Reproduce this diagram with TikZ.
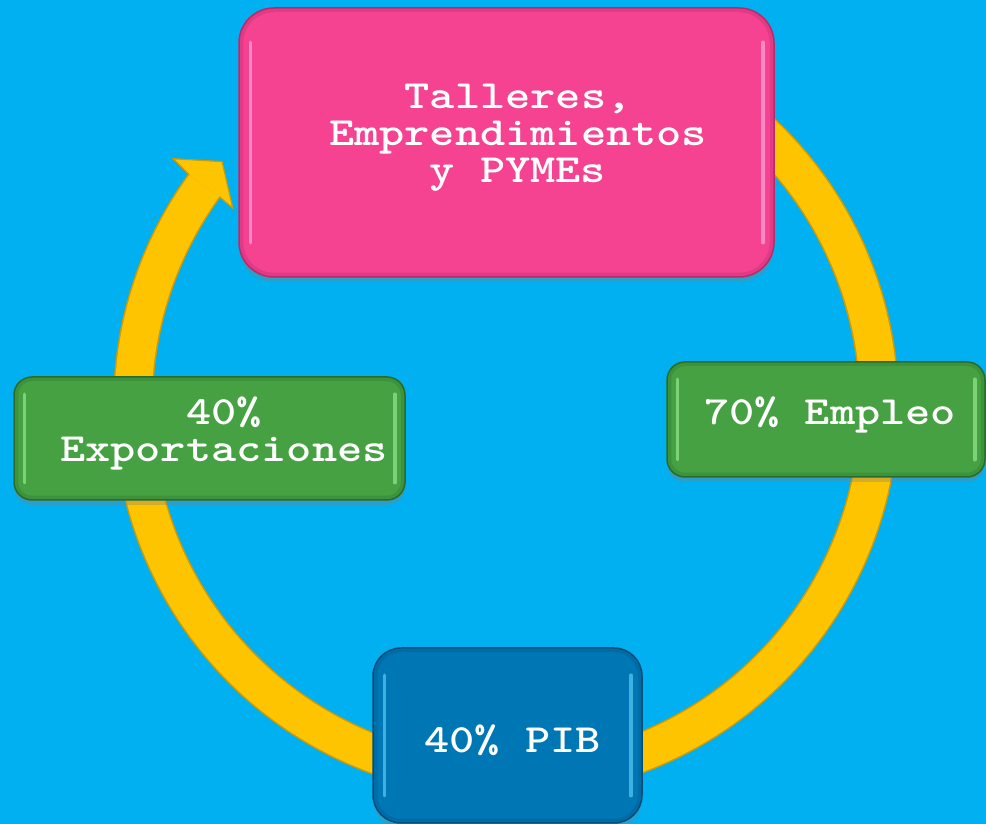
\documentclass[tikz,border=0pt]{standalone}
\usepackage{fontspec}
\newfontfamily\cour{Latin Modern Mono Light}[FakeStretch=1.2]
\usetikzlibrary{calc,shadows}
\definecolor{bg}{HTML}{00B0F0}
\definecolor{ringcol}{HTML}{FFC400}
\definecolor{ringedge}{HTML}{D39A00}
\definecolor{pinkmain}{HTML}{F54291}
\definecolor{pinkrim}{HTML}{E23A84}
\definecolor{pinkdark}{HTML}{B82A6A}
\definecolor{pinkhi}{HTML}{FFA6E0}
\definecolor{greenmain}{HTML}{45A142}
\definecolor{greenrim}{HTML}{3D933B}
\definecolor{greendark}{HTML}{2A6B2A}
\definecolor{greenhi}{HTML}{95E68E}
\definecolor{bluemain}{HTML}{0077B5}
\definecolor{bluerim}{HTML}{006CA6}
\definecolor{bluedark}{HTML}{004C7A}
\definecolor{bluehi}{HTML}{5CC8F5}
\tikzset{
  bbox/.style={rectangle, inner sep=0pt, line width=1.5pt,
    drop shadow={shadow xshift=0pt, shadow yshift=-5pt, opacity=0.35}},
  txt/.style={font=\cour\bfseries\fontsize{40}{37}\selectfont, text=white,
    inner sep=0pt, align=center, anchor=base},
  hiline/.style={line width=3.5pt, line cap=round, opacity=0.7}
}
\newcommand{\bevel}[5]{% name, radius, main, hi, inset
  \fill[#3, rounded corners=#2pt-4pt] ($(#1.south west)+(5,5)$) rectangle ($(#1.north east)-(5,5)$);
  \draw[#4, hiline] ($(#1.north west)+(#5,-#2)$) -- ($(#1.south west)+(#5,#2)$);
  \draw[#4, hiline] ($(#1.north east)+(-#5,-#2)$) -- ($(#1.south east)+(-#5,#2)$);
}
\begin{document}
\begin{tikzpicture}[x=1pt,y=1pt]
\fill[bg] (0,0) rectangle (986,824);
\useasboundingbox (0,0) rectangle (986,824);
% ring arrow
\coordinate (C) at (506,419);
\coordinate (ringstart) at ($(C)+(60:373)$);
\draw[ringedge, line width=40pt] (ringstart) arc[start angle=60, end angle=-216, radius=373];
\draw[ringcol, line width=37pt] (ringstart) arc[start angle=60, end angle=-216, radius=373];
\coordinate (hA) at ($(C)+(144:354.5)$);
\coordinate (hB) at ($(C)+(144.2:337)$);
\coordinate (hT) at ($(C)+(139.4:374)$);
\coordinate (hD) at ($(C)+(143.5:414)$);
\coordinate (hE) at ($(C)+(144:391.5)$);
\fill[ringcol] (hA) -- (hB) -- (hT) -- (hD) -- (hE) -- cycle;
\draw[ringedge, line width=1.2pt, line join=miter] (hA) -- (hB) -- (hT) -- (hD) -- (hE);
% boxes
\node[bbox, fill=pinkrim, draw=pinkdark, minimum width=535, minimum height=269, rounded corners=35pt] (pinkbox) at (506.5,681.5) {};
\bevel{pinkbox}{35}{pinkmain}{pinkhi}{12}
\node[bbox, fill=greenrim, draw=greendark, minimum width=318, minimum height=115, rounded corners=18pt] (rightbox) at (826,404.5) {};
\bevel{rightbox}{18}{greenmain}{greenhi}{11}
\node[bbox, fill=greenrim, draw=greendark, minimum width=391, minimum height=123, rounded corners=18pt] (leftbox) at (209.5,385.5) {};
\bevel{leftbox}{18}{greenmain}{greenhi}{11}
\node[bbox, fill=bluerim, draw=bluedark, minimum width=269, minimum height=175, rounded corners=28pt] (bluebox) at (507.5,88.5) {};
\bevel{bluebox}{28}{bluemain}{bluehi}{12}
% texts (base anchor = last line's baseline)
\node[txt] (pinktext) at (518,641) {Talleres,\\Emprendimientos\\y PYMEs};
\node[txt] (righttext) at (830,399) {70\% Empleo};
\node[txt] (lefttext) at (224,362) {40\%\\Exportaciones};
\node[txt] (bluetext) at (512.5,71) {40\% PIB};
\end{tikzpicture}
\end{document}
